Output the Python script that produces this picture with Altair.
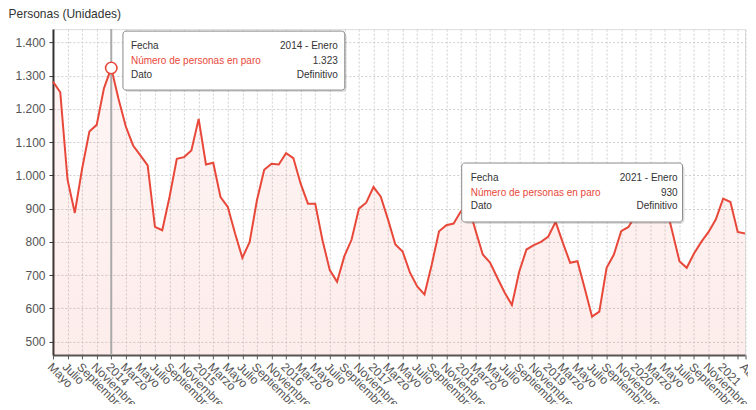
import altair as alt
import pandas as pd

# Monthly series: May 2013 .. April 2021 (index 0..95)
mes_idx = list(range(96))
valores = [
    1282, 1250, 987, 887, 1020, 1132, 1152, 1262,          # May-Dec 2013
    1323, 1230, 1147, 1090, 1060, 1030, 845, 835, 935, 1050, 1055, 1075,   # 2014
    1170, 1033, 1038, 935, 905, 825, 752, 800, 925, 1017, 1035, 1033,      # 2015
    1067, 1052, 975, 915, 915, 805, 715, 680, 757, 807, 900, 918,          # 2016
    965, 936, 867, 792, 771, 708, 666, 642, 732, 832, 850, 855,            # 2017
    892, 910, 835, 762, 738, 692, 648, 610, 710, 777, 790, 800,            # 2018
    816, 860, 797, 737, 742, 660, 575, 590, 722, 762, 832, 845,            # 2019
    880, 905, 940, 960, 920, 833, 742, 722, 765, 800, 830, 868,            # 2020
    930, 920, 830, 825,                                                    # Jan-Apr 2021
]

tick_idx = list(range(0, 96, 2)) + [95]
tick_labels = [
    "Mayo", "Julio", "Septiembre", "Noviembre",
    "2014", "Marzo", "Mayo", "Julio", "Septiembre", "Noviembre",
    "2015", "Marzo", "Mayo", "Julio", "Septiembre", "Noviembre",
    "2016", "Marzo", "Mayo", "Julio", "Septiembre", "Noviembre",
    "2017", "Marzo", "Mayo", "Julio", "Septiembre", "Noviembre",
    "2018", "Marzo", "Mayo", "Julio", "Septiembre", "Noviembre",
    "2019", "Marzo", "Mayo", "Julio", "Septiembre", "Noviembre",
    "2020", "Marzo", "Mayo", "Julio", "Septiembre", "Noviembre",
    "2021", "", "Abril",
]
y_ticks = [500, 600, 700, 800, 900, 1000, 1100, 1200, 1300, 1400]

# hovered points shown with tooltips
hover_idx = [8, 92]
hover_fecha = ["2014 - Enero", "2021 - Enero"]
tooltip_rows = ["Fecha", "Número de personas en paro", "Dato"]
dato_tipo = "Definitivo"

RED = "#e8483a"
FONT = "Liberation Sans"

df = pd.DataFrame({"i": mes_idx, "v": valores})

lbl_js = "[" + ",".join("'" + t + "'" for t in tick_labels) + "]"
idx_js = "[" + ",".join(str(t) for t in tick_idx) + "]"

x_enc = alt.X(
    "i:Q",
    scale=alt.Scale(domain=[0, 95], nice=False, zero=False),
    axis=alt.Axis(
        values=tick_idx,
        labelExpr=f"{lbl_js}[indexof({idx_js}, datum.value)]",
        labelAngle=45, labelAlign="left", labelBaseline="top",
        labelFlush=False, labelOverlap=False, labelBound=False,
        tickSize=4, labelPadding=2, tickColor="#555",
        domainColor="#555", domainWidth=2,
        grid=True, gridDash=[2, 2], gridColor="#cfcfcf",
        labelColor="#555", labelFontSize=12, labelFont=FONT,
        title=None,
    ),
)
y_enc = alt.Y(
    "v:Q",
    scale=alt.Scale(domain=[460, 1440], nice=False, zero=False),
    axis=alt.Axis(
        values=y_ticks,
        labelExpr="replace(format(datum.value, ','), ',', '.')",
        labelOverlap=False, labelFlush=False,
        tickSize=4, labelPadding=4, tickColor="#333",
        domainColor="#333", domainWidth=2,
        grid=True, gridDash=[2, 2], gridColor="#cfcfcf",
        labelColor="#555", labelFontSize=12, labelFont=FONT,
        title="Personas (Unidades)", titleAngle=0, titleX=-45, titleY=-12,
        titleAlign="left", titleBaseline="alphabetic", titleFontSize=12,
        titleFontWeight="normal", titleColor="#333", titleFont=FONT,
    ),
)

area = alt.Chart(df).mark_area(
    clip=True,
    color=alt.Gradient(
        gradient="linear",
        stops=[alt.GradientStop(color="rgba(232,72,58,0.05)", offset=0),
               alt.GradientStop(color="rgba(232,72,58,0.13)", offset=1)],
        x1=0, x2=0, y1=0, y2=1,
    ),
).encode(x=x_enc, y=y_enc)

line = alt.Chart(df).mark_line(color=RED, strokeWidth=2).encode(x=x_enc, y=y_enc)

hover_df = pd.DataFrame({"i": [hover_idx[0]], "v": [valores[hover_idx[0]]]})
cross = alt.Chart(hover_df).mark_rule(color="#aaaaaa", strokeWidth=2).encode(x=x_enc)
marker = alt.Chart(hover_df).mark_point(
    filled=True, fill="white", stroke=RED, strokeWidth=1.6, size=130, opacity=1
).encode(x=x_enc, y=y_enc)

layers = [area, line, cross, marker]

# tooltip boxes (pixel positions inside the plot area)
boxes = [
    dict(x0=70, x1=292, y0=2, y1=61, tx=78, rx=285, ry=[17, 31.5, 45.5]),
    dict(x0=409, x1=630, y0=134, y1=193, tx=418, rx=625, ry=[149, 163.5, 177.5]),
]
one = pd.DataFrame({"k": [0]})
for b, idx, fecha in zip(boxes, hover_idx, hover_fecha):
    shadow = alt.Chart(one).mark_rect(
        fill="#000", opacity=0.12, cornerRadius=4
    ).encode(x=alt.value(b["x0"] + 2), x2=alt.value(b["x1"] + 2),
             y=alt.value(b["y0"] + 2), y2=alt.value(b["y1"] + 2))
    box = alt.Chart(one).mark_rect(
        fill="white", stroke="#8a8a8a", strokeWidth=1, cornerRadius=3
    ).encode(x=alt.value(b["x0"]), x2=alt.value(b["x1"]),
             y=alt.value(b["y0"]), y2=alt.value(b["y1"]))
    layers += [shadow, box]
    val = f"{valores[idx]:,}".replace(",", ".")
    rights = [fecha, val, dato_tipo]
    for r, (lt, rt) in enumerate(zip(tooltip_rows, rights)):
        col = RED if r == 1 else "#333"
        layers.append(
            alt.Chart(pd.DataFrame({"t": [lt]})).mark_text(
                align="left", baseline="middle", font=FONT, fontSize=10, color=col
            ).encode(text="t:N", x=alt.value(b["tx"]), y=alt.value(b["ry"][r]))
        )
        layers.append(
            alt.Chart(pd.DataFrame({"t": [rt]})).mark_text(
                align="right", baseline="middle", font=FONT, fontSize=10, color="#333"
            ).encode(text="t:N", x=alt.value(b["rx"]), y=alt.value(b["ry"][r]))
        )

chart = alt.layer(*layers).properties(
    width=692.5, height=326,
    padding={"left": 45, "top": 21, "right": 3, "bottom": 49},
    autosize=alt.AutoSizeParams(type="none"),
).configure_view(stroke=None).configure(background="white").configure_axis(
    labelOverlap=False
)

chart.save("out.html", embed_options={"renderer": "svg", "actions": False})
